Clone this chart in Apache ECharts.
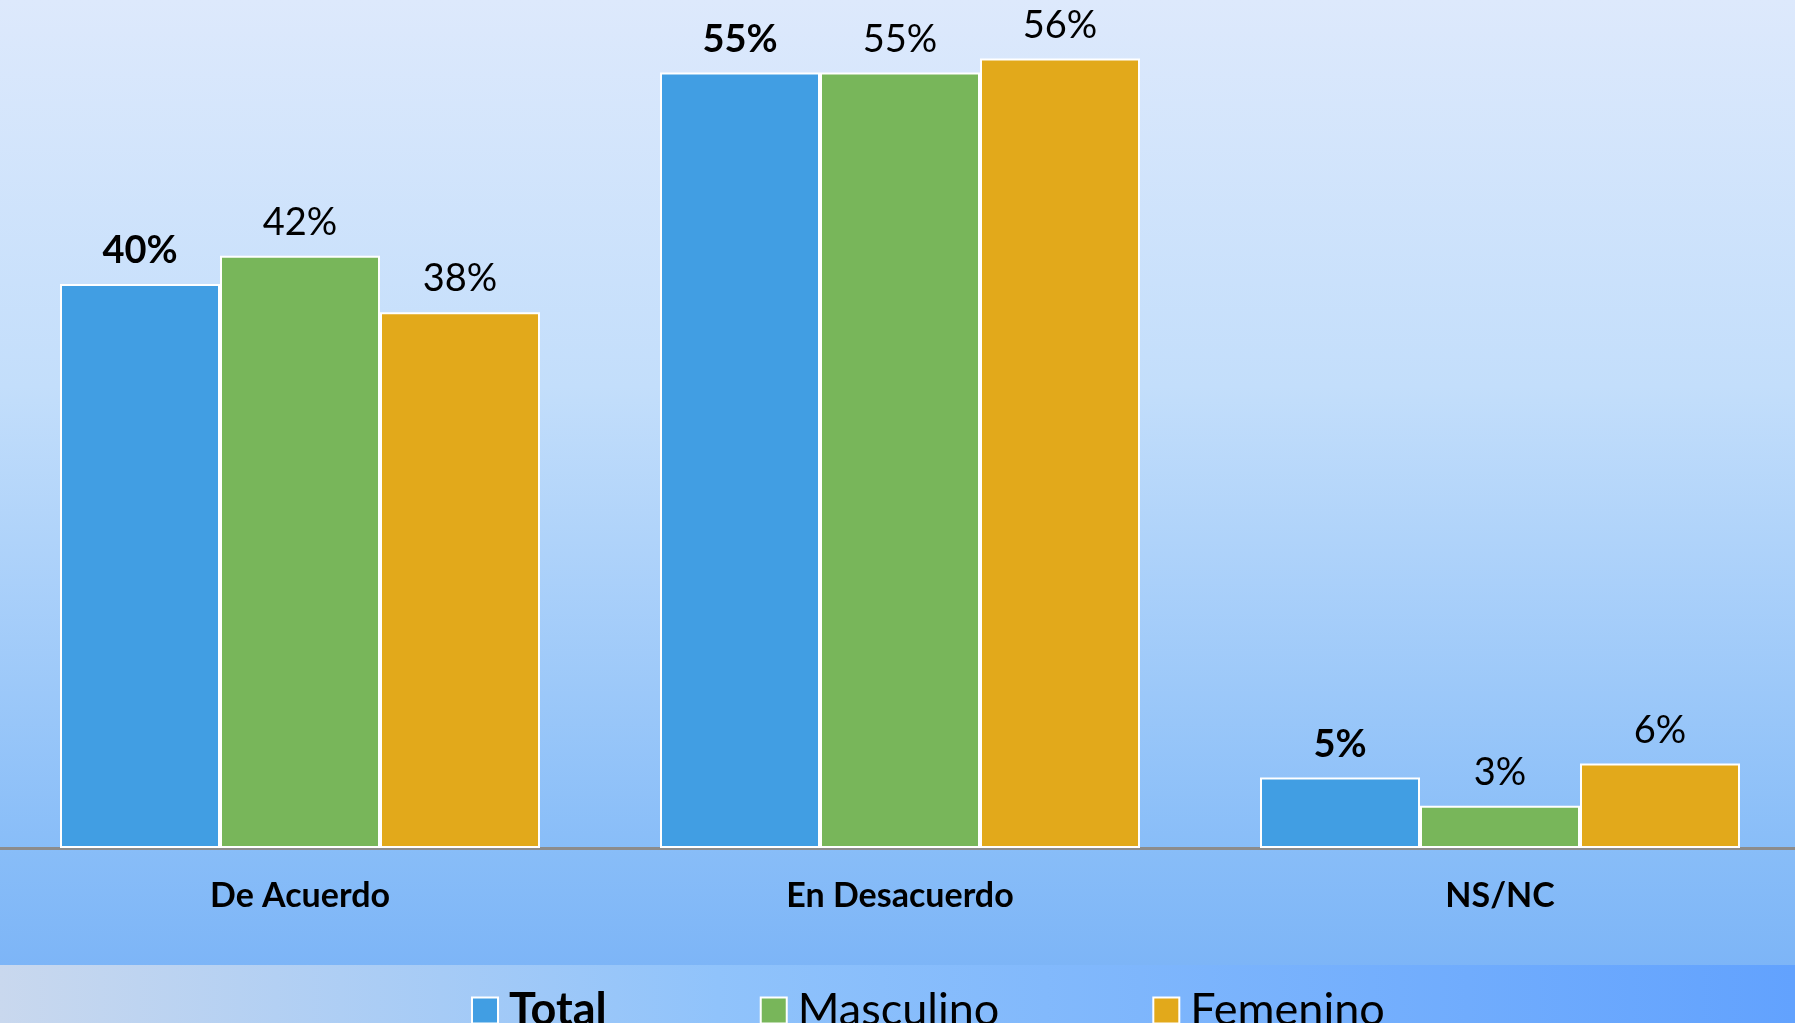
<!DOCTYPE html>
<html>
<head>
<meta charset="utf-8">
<script src="https://cdn.jsdelivr.net/npm/echarts@6/dist/echarts.min.js"></script>
<style>
  html, body { margin: 0; padding: 0; }
  #chart { width: 1795px; height: 1023px; }
</style>
</head>
<body>
<div id="chart"></div>
<script>
// categorias y valores (%)
var categorias = ['De Acuerdo', 'En Desacuerdo', 'NS/NC'];
var total = [40, 55, 5];
var masculino = [42, 55, 3];
var femenino = [38, 56, 6];

var fuente = 'Lato, "Open Sans", sans-serif';

var chart = echarts.init(document.getElementById('chart'));

function serie(nombre, datos, color, negrita) {
    return {
        name: nombre,
        type: 'bar',
        data: datos,
        barGap: '0%',
        barCategoryGap: '20%',
        itemStyle: {
            color: color,
            borderColor: '#ffffff',
            borderWidth: 2
        },
        label: {
            show: true,
            position: 'top',
            distance: 14,
            formatter: '{c}%',
            color: '#000',
            fontFamily: fuente,
            fontSize: 38,
            fontWeight: negrita ? 'bold' : 'normal'
        }
    };
}

var option = {
    animation: false,
    backgroundColor: 'transparent',
    graphic: [
        {
            // fondo del grafico
            type: 'rect',
            z: -10,
            shape: { x: 0, y: 0, width: 1795, height: 965 },
            style: {
                fill: new echarts.graphic.LinearGradient(0, 0, 0, 1, [
                    { offset: 0, color: '#dde9fc' },
                    { offset: 0.4, color: '#c3defb' },
                    { offset: 0.88, color: '#88bdf8' },
                    { offset: 1, color: '#7db5f7' }
                ])
            }
        },
        {
            // franja de la leyenda
            type: 'rect',
            z: -10,
            shape: { x: 0, y: 965, width: 1795, height: 58 },
            style: {
                fill: new echarts.graphic.LinearGradient(0, 0, 1, 0, [
                    { offset: 0, color: '#c9d8ee' },
                    { offset: 0.4, color: '#90c3fb' },
                    { offset: 1, color: '#62a2fe' }
                ])
            }
        }
    ],
    grid: {
        left: 0,
        top: 2,
        width: 1800,
        bottom: 175,
        outerBoundsMode: 'none'
    },
    legend: {
        left: 466,
        top: 983,
        itemWidth: 26,
        itemHeight: 26,
        itemGap: 153,
        icon: 'rect',
        itemStyle: { borderColor: '#ffffff', borderWidth: 2 },
        formatter: function (name) {
            return name === 'Total' ? '{b|' + name + '}' : '{n|' + name + '}';
        },
        textStyle: {
            color: '#000',
            fontFamily: fuente,
            fontSize: 45,
            padding: [0, 0, 0, 6],
            rich: {
                b: { fontSize: 45, fontWeight: 'bold', fontFamily: fuente, color: '#000' },
                n: { fontSize: 45, fontFamily: fuente, color: '#000' }
            }
        },
        data: ['Total', 'Masculino', 'Femenino']
    },
    xAxis: {
        type: 'category',
        data: categorias,
        axisLine: { lineStyle: { color: '#8c8c8c', width: 3 } },
        axisTick: { show: false },
        axisLabel: {
            margin: 31,
            color: '#000',
            fontFamily: fuente,
            fontSize: 34,
            fontWeight: 'bold'
        }
    },
    yAxis: {
        type: 'value',
        min: 0,
        max: 60,
        show: false,
        splitLine: { show: false }
    },
    series: [
        serie('Total', total, '#419ee3', true),
        serie('Masculino', masculino, '#78b65a', false),
        serie('Femenino', femenino, '#e2a91b', false)
    ]
};

chart.setOption(option);
</script>
</body>
</html>
